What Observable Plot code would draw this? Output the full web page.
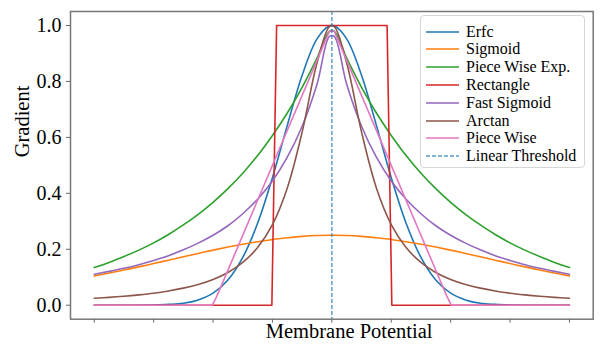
<!DOCTYPE html>
<html><head><meta charset="utf-8">
<script src="https://cdn.jsdelivr.net/npm/d3@7"></script>
<script src="https://cdn.jsdelivr.net/npm/@observablehq/plot@0.6"></script>
<style>
body{margin:0;background:#fff;font-family:"Liberation Serif","Times New Roman",serif;}
#wrap{position:relative;width:607px;height:356px;}
#chart svg text{font-family:"Liberation Serif","Times New Roman",serif;}
#legend{position:absolute;left:420px;top:15px;width:165px;height:153px;box-sizing:border-box;border:1px solid #d6d6d6;border-radius:4px;background:rgba(255,255,255,0.85);}
.row{position:absolute;left:0;height:18px;width:160px;}
.row svg{position:absolute;left:5px;top:0;}
.row span{position:absolute;left:45px;top:0;line-height:18px;font-size:16px;color:#000;white-space:nowrap;}
</style></head>
<body><div id="wrap"><div id="chart"></div><div id="legend"></div></div>
<script>
const xs = [-4,-3.75,-3.5,-3.25,-3,-2.75,-2.5,-2.25,-2,-1.75,-1.5,-1.25,-1,-0.75,-0.5,-0.25,-0.04,0.04,0.25,0.5,0.75,1,1.25,1.5,1.75,2,2.25,2.5,2.75,3,3.25,3.5,3.75,4];
const erfc = [0,0,0,0,0.001,0.003,0.007,0.019,0.043,0.090,0.171,0.293,0.456,0.643,0.822,0.952,0.999,0.999,0.952,0.822,0.643,0.456,0.293,0.171,0.090,0.043,0.019,0.007,0.003,0.001,0,0,0,0];
const sigmoid = [0.105,0.115,0.126,0.137,0.149,0.161,0.173,0.185,0.197,0.208,0.218,0.227,0.235,0.241,0.246,0.249,0.250,0.250,0.249,0.246,0.241,0.235,0.227,0.218,0.208,0.197,0.185,0.173,0.161,0.149,0.137,0.126,0.115,0.105];
const pwExp = [0.135,0.153,0.174,0.197,0.223,0.253,0.287,0.325,0.368,0.417,0.472,0.535,0.607,0.687,0.779,0.883,0.980,0.980,0.883,0.779,0.687,0.607,0.535,0.472,0.417,0.368,0.325,0.287,0.253,0.223,0.197,0.174,0.153,0.135];
const fastSig = [0.111,0.121,0.132,0.145,0.160,0.177,0.198,0.222,0.250,0.284,0.327,0.379,0.444,0.529,0.640,0.790,0.961,0.961,0.790,0.640,0.529,0.444,0.379,0.327,0.284,0.250,0.222,0.198,0.177,0.160,0.145,0.132,0.121,0.111];
const arctan = [0.025,0.028,0.032,0.037,0.043,0.051,0.061,0.074,0.092,0.117,0.153,0.206,0.288,0.419,0.619,0.866,0.996,0.996,0.866,0.619,0.419,0.288,0.206,0.153,0.117,0.092,0.074,0.061,0.051,0.043,0.037,0.032,0.028,0.025];
const rectX = [-4,-1.01,-0.93,0.93,1.01,4];
const rectY = [0,0,1,1,0,0];
const pwX = [-4,-2.01,-1.93,-0.04,0.04,1.93,2.01,4];
const pwY = [0,0,0.035,0.98,0.98,0.035,0,0];
const thresholdX = [0];
const xTicks = [-4,-3,-2,-1,0,1,2,3,4];
const yTicks = [0,0.2,0.4,0.6,0.8,1.0];
const names = ["Erfc","Sigmoid","Piece Wise Exp.","Rectangle","Fast Sigmoid","Arctan","Piece Wise","Linear Threshold"];
const colors = ["#1f77b4","#ff7f0e","#2ca02c","#d62728","#9467bd","#8c564b","#e377c2","#1f77b4"];

const serif = '"Liberation Serif","Times New Roman",serif';
const pts = (X, Y) => X.map((x, i) => ({x, y: Y[i]}));
const smooth = {x: "x", y: "y", strokeWidth: 1.6, curve: "catmull-rom"};
const sharp = {x: "x", y: "y", strokeWidth: 1.6};

const chart = Plot.plot({
  width: 607, height: 356,
  marginLeft: 70, marginRight: 14.3, marginTop: 11, marginBottom: 37.3,
  style: {fontFamily: serif, color: "#000", background: "#fff"},
  x: {domain: [-4.4, 4.4]},
  y: {domain: [-0.05, 1.05]},
  marks: [
    Plot.axisY({ticks: yTicks, tickFormat: d3.format(".1f"), tickSize: 4, tickPadding: 5, fontSize: 20, fontFamily: serif, label: null, stroke: "#666"}),
    Plot.axisX({ticks: xTicks, tickFormat: () => "", tickSize: 4, label: null, stroke: "#666"}),
    Plot.line(pts(xs, erfc), {...smooth, stroke: colors[0]}),
    Plot.line(pts(xs, sigmoid), {...smooth, stroke: colors[1]}),
    Plot.line(pts(xs, pwExp), {...smooth, stroke: colors[2]}),
    Plot.line(pts(rectX, rectY), {...sharp, stroke: colors[3]}),
    Plot.line(pts(xs, fastSig), {...smooth, stroke: colors[4]}),
    Plot.line(pts(xs, arctan), {...smooth, stroke: colors[5]}),
    Plot.line(pts(pwX, pwY), {...sharp, stroke: colors[6]}),
    Plot.ruleX(thresholdX, {stroke: colors[7], strokeOpacity: 0.75, strokeWidth: 1.4, strokeDasharray: "4,2"}),
    Plot.frame({stroke: "#777", strokeWidth: 1.5}),
    Plot.text(["Membrane Potential"], {frameAnchor: "bottom", dx: 17.3, dy: 18.5, fontSize: 20.5, fontFamily: serif, fill: "#000"}),
    Plot.text(["Gradient"], {frameAnchor: "left", rotate: -90, dx: -48, dy: -8, fontSize: 20.5, fontFamily: serif, fill: "#000"})
  ]
});
document.getElementById("chart").appendChild(chart);

const legend = d3.select("#legend");
names.forEach((name, i) => {
  const row = legend.append("div").attr("class", "row").style("top", (6.7 + i * 17.77) + "px");
  const svg = row.append("svg").attr("width", 34).attr("height", 18);
  const ln = svg.append("line").attr("x1", 0).attr("x2", 33).attr("y1", 9).attr("y2", 9)
    .attr("stroke", colors[i]).attr("stroke-width", 1.6);
  if (i === 7) ln.attr("stroke-dasharray", "4,2").attr("stroke-opacity", 0.75).attr("stroke-width", 1.4);
  row.append("span").text(name);
});
</script>
</body></html>
